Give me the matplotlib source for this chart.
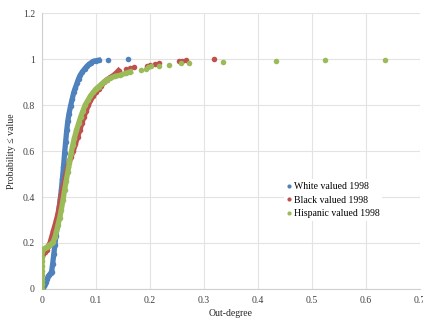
import matplotlib
matplotlib.use("Agg")
import matplotlib.pyplot as plt

plt.rcParams['font.family'] = ['Liberation Serif', 'DejaVu Serif']

# White valued 1998: dense part of the CDF, then the sparse tail
white_x = [0, 0.002, 0.004, 0.006, 0.008, 0.010, 0.012, 0.014, 0.016, 0.018,
           0.020, 0.022, 0.024, 0.026, 0.028, 0.030, 0.032, 0.034, 0.036, 0.038,
           0.040, 0.042, 0.044, 0.046, 0.048, 0.050, 0.053, 0.056, 0.059, 0.062,
           0.065, 0.068, 0.071, 0.075, 0.079, 0.083, 0.087, 0.091, 0.095, 0.100, 0.105]
white_y = [0, 0.01, 0.015, 0.02, 0.03, 0.045, 0.055, 0.062, 0.068, 0.075,
           0.11, 0.15, 0.19, 0.23, 0.27, 0.31, 0.35, 0.39, 0.43, 0.48,
           0.53, 0.59, 0.64, 0.69, 0.73, 0.76, 0.795, 0.825, 0.855, 0.875,
           0.895, 0.915, 0.93, 0.945, 0.957, 0.968, 0.977, 0.984, 0.99, 0.993, 0.995]
white_tail_x = [0.122, 0.16]
white_tail_y = [0.997, 1.0]

# Black valued 1998
black_x = [0.003, 0.006, 0.009, 0.012, 0.015, 0.018, 0.021, 0.024, 0.027, 0.030,
           0.033, 0.036, 0.039, 0.042, 0.045, 0.048, 0.051, 0.054, 0.058, 0.062,
           0.066, 0.070, 0.074, 0.078, 0.082, 0.086, 0.090, 0.095, 0.100, 0.105,
           0.110, 0.115, 0.120, 0.127, 0.133, 0.138, 0.142]
black_y = [0.15, 0.16, 0.17, 0.185, 0.20, 0.225, 0.25, 0.275, 0.30, 0.33,
           0.37, 0.41, 0.44, 0.47, 0.50, 0.53, 0.555, 0.575, 0.60, 0.63,
           0.66, 0.69, 0.72, 0.75, 0.775, 0.80, 0.82, 0.84, 0.855, 0.87,
           0.885, 0.90, 0.91, 0.92, 0.93, 0.94, 0.95]
black_tail_x = [0.155, 0.163, 0.17, 0.195, 0.20, 0.21, 0.217, 0.253, 0.26, 0.267, 0.318]
black_tail_y = [0.955, 0.962, 0.966, 0.97, 0.975, 0.98, 0.985, 0.99, 0.993, 0.995, 1.0]

# Hispanic valued 1998
hisp_x = [0, 0, 0, 0, 0, 0, 0, 0, 0, 0,
          0.003, 0.006, 0.009, 0.012, 0.015, 0.018, 0.021, 0.024, 0.027, 0.030,
          0.033, 0.036, 0.039, 0.042, 0.045, 0.048, 0.051, 0.054, 0.057, 0.060,
          0.064, 0.068, 0.072, 0.076, 0.080, 0.085, 0.090, 0.095, 0.100, 0.105,
          0.110, 0.115, 0.120, 0.127, 0.135, 0.145, 0.155, 0.164]
hisp_y = [0, 0.02, 0.04, 0.06, 0.08, 0.10, 0.12, 0.14, 0.16, 0.17,
          0.172, 0.177, 0.182, 0.187, 0.192, 0.198, 0.205, 0.225, 0.25, 0.28,
          0.31, 0.345, 0.385, 0.43, 0.47, 0.51, 0.55, 0.59, 0.625, 0.655,
          0.69, 0.72, 0.75, 0.775, 0.80, 0.82, 0.84, 0.855, 0.87, 0.88,
          0.89, 0.90, 0.91, 0.917, 0.925, 0.93, 0.938, 0.945]
hisp_tail_x = [0.183, 0.192, 0.197, 0.202, 0.216, 0.235, 0.257, 0.272, 0.335, 0.434, 0.524, 0.635]
hisp_tail_y = [0.952, 0.957, 0.964, 0.971, 0.971, 0.975, 0.981, 0.985, 0.988, 0.993, 0.996, 0.998]

series = [
    ('White valued 1998', white_x, white_y, white_tail_x, white_tail_y, '#4F81BD'),
    ('Black valued 1998', black_x, black_y, black_tail_x, black_tail_y, '#C0504D'),
    ('Hispanic valued 1998', hisp_x, hisp_y, hisp_tail_x, hisp_tail_y, '#9BBB59'),
]

fig = plt.figure(figsize=(4.23, 3.2), dpi=100)
ax = fig.add_axes([0.099, 0.097, 0.894, 0.862])

handles = []
for label, x, y, tx, ty, col in series:
    ax.plot(x, y, '-o', color=col, lw=3.8, ms=4, mec='none', zorder=3)
    h, = ax.plot(tx, ty, 'o', color=col, ms=4, mec='none', label=label, zorder=3)
    handles.append(h)

ax.set_xlim(0, 0.7)
ax.set_ylim(0, 1.2)
ax.set_xticks([0, 0.1, 0.2, 0.3, 0.4, 0.5, 0.6, 0.7])
ax.set_xticklabels(['0', '0.1', '0.2', '0.3', '0.4', '0.5', '0.6', '0.7'])
ax.set_yticks([0, 0.2, 0.4, 0.6, 0.8, 1.0, 1.2])
ax.set_yticklabels(['0', '0.2', '0.4', '0.6', '0.8', '1', '1.2'])
ax.grid(color='#e3e3e3', lw=0.8)
ax.set_axisbelow(True)
for s in ['top', 'right']:
    ax.spines[s].set_visible(False)
for s in ['left', 'bottom']:
    ax.spines[s].set_color('#d0d0d0')
ax.tick_params(length=0, labelsize=7, colors='#404040', pad=5)
ax.set_xlabel('Out-degree', fontsize=7, color='#262626', labelpad=3)
ax.set_ylabel('Probability ≤ value', fontsize=7, color='#262626', labelpad=5)

leg = ax.legend(handles=handles, loc='upper left', bbox_to_anchor=(0.627, 0.415),
                fontsize=7, frameon=True, handlelength=0.4, handletextpad=0.3,
                labelspacing=0.45, borderpad=0.3, markerscale=0.75)
leg.get_frame().set_facecolor('white')
leg.get_frame().set_edgecolor('none')
leg.get_frame().set_alpha(1)

fig.savefig('out.png', dpi=100)
